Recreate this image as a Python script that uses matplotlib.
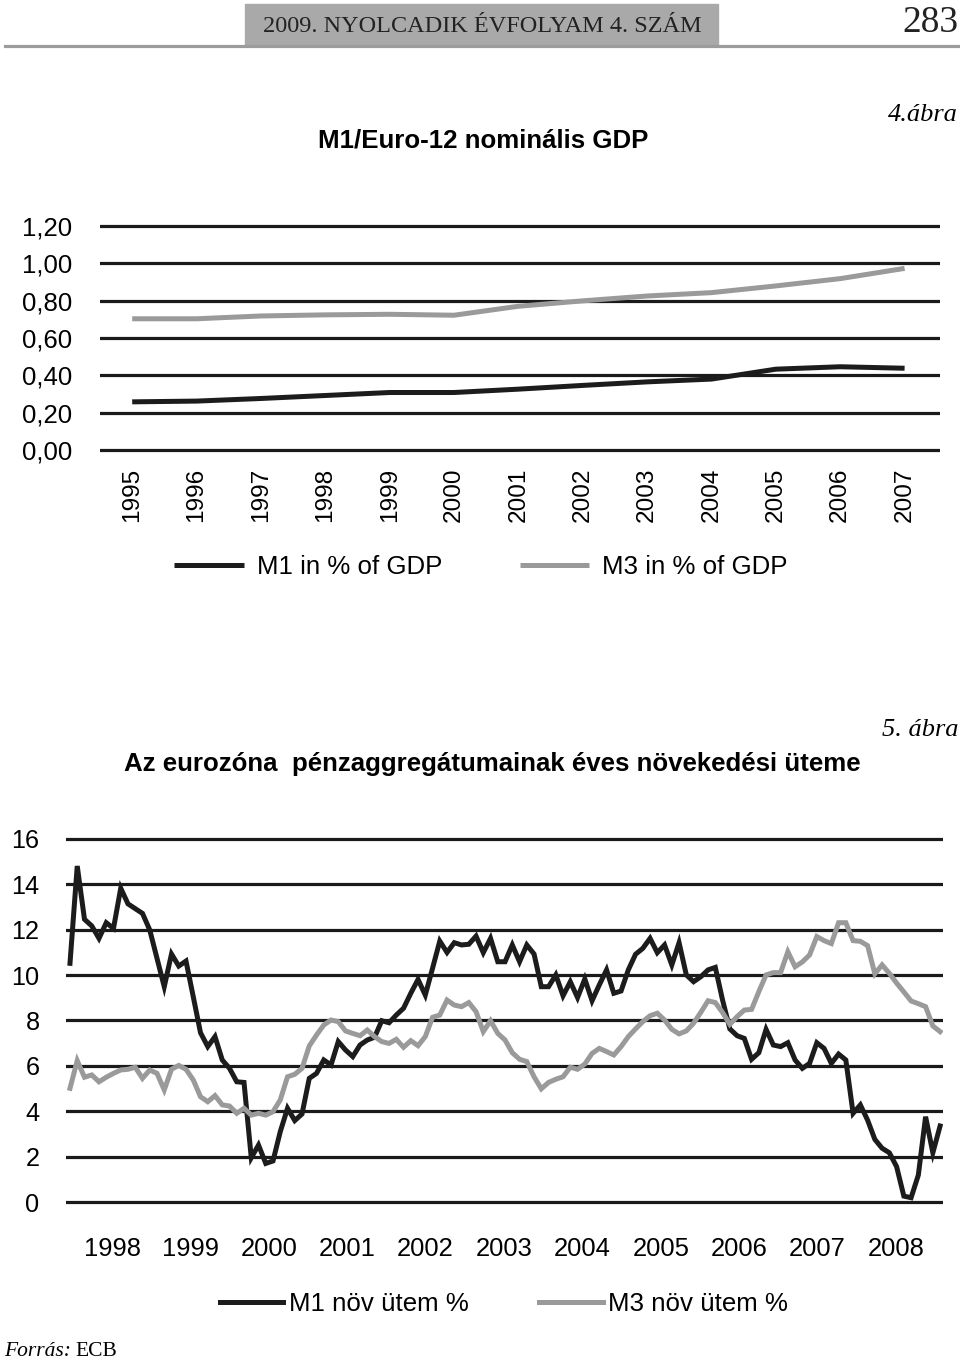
import matplotlib
matplotlib.use("Agg")
import matplotlib.pyplot as plt
from matplotlib.patches import Rectangle
from matplotlib.lines import Line2D
import numpy as np

SANS = ["Liberation Sans Narrow", "Liberation Sans", "DejaVu Sans"]
SERIF = ["Liberation Serif", "DejaVu Serif"]
plt.rcParams["font.family"] = SANS

# 4. abra: M1 and M3 in % of GDP, yearly
years_top = ["1995", "1996", "1997", "1998", "1999", "2000", "2001",
             "2002", "2003", "2004", "2005", "2006", "2007"]
m1_gdp = [0.258, 0.262, 0.276, 0.292, 0.308, 0.308, 0.326,
          0.346, 0.365, 0.380, 0.433, 0.446, 0.438]
m3_gdp = [0.703, 0.703, 0.718, 0.724, 0.727, 0.722, 0.770,
          0.799, 0.825, 0.843, 0.879, 0.918, 0.973]

# 5. abra: annual growth of M1 and M3, monthly
m1_growth = [
    10.52, 14.81, 12.46, 12.17, 11.62, 12.31, 12.06, 13.83, 13.14, 12.93,
    12.72, 11.99, 10.74, 9.49, 10.93, 10.40, 10.62, 9.05, 7.46, 6.85,
    7.29, 6.26, 5.89, 5.30, 5.27, 1.95, 2.51, 1.70, 1.81, 3.10,
    4.13, 3.59, 3.88, 5.45, 5.67, 6.26, 6.04, 7.07, 6.70, 6.41,
    6.92, 7.14, 7.26, 7.99, 7.90, 8.24, 8.54, 9.20, 9.81, 9.12,
    10.30, 11.50, 11.00, 11.43, 11.33, 11.36, 11.72, 10.99, 11.62, 10.59,
    10.59, 11.33, 10.59, 11.33, 10.93, 9.49, 9.49, 10.01, 9.09, 9.71,
    9.01, 9.83, 8.87, 9.57, 10.23, 9.20, 9.30, 10.23, 10.92, 11.18,
    11.62, 10.99, 11.33, 10.45, 11.43, 10.01, 9.71, 9.93, 10.23, 10.34,
    8.90, 7.63, 7.33, 7.21, 6.29, 6.58, 7.61, 6.92, 6.85, 7.02,
    6.26, 5.89, 6.11, 7.02, 6.77, 6.11, 6.52, 6.26, 3.91, 4.28,
    3.61, 2.76, 2.37, 2.17, 1.56, 0.26, 0.19, 1.19, 3.76, 2.17, 3.35]
m3_growth = [
    5.01, 6.23, 5.50, 5.60, 5.30, 5.50, 5.67, 5.82, 5.85, 5.94,
    5.45, 5.82, 5.67, 4.94, 5.85, 6.02, 5.85, 5.38, 4.64, 4.42,
    4.69, 4.28, 4.23, 3.91, 4.13, 3.83, 3.91, 3.83, 3.98, 4.50,
    5.52, 5.63, 5.89, 6.88, 7.36, 7.80, 8.02, 7.95, 7.54, 7.43,
    7.33, 7.58, 7.29, 7.07, 6.99, 7.17, 6.82, 7.11, 6.89, 7.29,
    8.14, 8.24, 8.90, 8.68, 8.61, 8.79, 8.39, 7.51, 7.99, 7.43,
    7.14, 6.58, 6.29, 6.19, 5.52, 4.99, 5.27, 5.41, 5.52, 5.94,
    5.85, 6.08, 6.55, 6.77, 6.63, 6.48, 6.85, 7.29, 7.63, 7.95,
    8.21, 8.32, 8.02, 7.61, 7.41, 7.54, 7.88, 8.36, 8.87, 8.79,
    8.35, 7.83, 8.17, 8.46, 8.49, 9.27, 10.01, 10.11, 10.11, 11.03,
    10.37, 10.58, 10.89, 11.70, 11.52, 11.39, 12.31, 12.31, 11.52, 11.49,
    11.30, 10.06, 10.45, 10.08, 9.65, 9.26, 8.86, 8.74, 8.61, 7.76, 7.51]
years_bottom = ["1998", "1999", "2000", "2001", "2002", "2003",
                "2004", "2005", "2006", "2007", "2008"]

BLACK = "#1c1c1c"
GREY = "#9a9a9a"
GRID = "#1a1a1a"

W, H = 960, 1363
fig = plt.figure(figsize=(W / 100, H / 100), dpi=100)


def box(l, t, r, b):
    return [l / W, 1 - b / H, (r - l) / W, (b - t) / H]


def style(ax):
    for s in ax.spines.values():
        s.set_visible(False)
    ax.yaxis.grid(True, color=GRID, lw=2.3)
    ax.set_axisbelow(True)


# header
fig.patches.append(Rectangle((245 / W, 1 - 45 / H), 473 / W, 41 / H,
                             transform=fig.transFigure, color="#a9a9a9", zorder=0))
fig.add_artist(Line2D([5 / W, 1], [1 - 46 / H] * 2, lw=2.3, color="#9c9c9c"))
fig.text(482 / W, 1 - 26 / H, "2009. NYOLCADIK ÉVFOLYAM 4. SZÁM", family=SERIF,
         fontsize=17.5, ha="center", va="center", color="#222222")
fig.text(958 / W, 1 - 23 / H, "283", family=SERIF, fontsize=27,
         ha="right", va="center", color="#222222")

# chart 4
fig.text(958 / W, 1 - 115 / H, "4.ábra", family=SERIF, style="italic",
         fontsize=19, ha="right", va="center")
fig.text(483 / W, 1 - 140 / H, "M1/Euro-12 nominális GDP", fontsize=18.6,
         fontweight="bold", ha="center", va="center")

ax1 = fig.add_axes(box(100, 222, 940, 454))
style(ax1)
x1 = np.arange(len(years_top))
l1, = ax1.plot(x1, m1_gdp, color=BLACK, lw=3.6, solid_capstyle="butt")
l2, = ax1.plot(x1, m3_gdp, color=GREY, lw=3.6, solid_capstyle="butt")
ax1.set_xlim(-0.5, 12.55)
ax1.set_ylim(-0.0214, 1.2214)
ax1.set_yticks(np.arange(0, 1.21, 0.2))
ax1.set_yticklabels([f"{v:.2f}".replace(".", ",") for v in np.arange(0, 1.21, 0.2)])
ax1.set_xticks(x1)
ax1.set_xticklabels(years_top, rotation=90)
ax1.tick_params(axis="x", length=0, pad=10, labelsize=17.6)
ax1.tick_params(axis="y", length=0, pad=20, labelsize=18.5)

fig.legend([l1, l2], ["M1 in % of GDP", "M3 in % of GDP"], loc="center",
           bbox_to_anchor=(481 / W, 1 - 567 / H), ncol=2, frameon=False,
           fontsize=18.6, handlelength=2.7, handletextpad=0.5, columnspacing=3.0)

# chart 5
fig.text(958 / W, 1 - 730 / H, "5. ábra", family=SERIF, style="italic",
         fontsize=19, ha="right", va="center")
fig.text(492 / W, 1 - 764 / H,
         "Az eurozóna  pénzaggregátumainak éves növekedési üteme",
         fontsize=18.6, fontweight="bold", ha="center", va="center")

ax2 = fig.add_axes(box(66, 835, 943, 1206))
style(ax2)
x2 = np.arange(len(m1_growth))
l3, = ax2.plot(x2, m1_growth, color=BLACK, lw=3.6, solid_joinstyle="miter")
l4, = ax2.plot(x2, m3_growth, color=GREY, lw=3.6, solid_joinstyle="miter")
ax2.set_xlim(-0.55, 120.4)
ax2.set_ylim(-0.176, 16.176)
ax2.set_yticks(np.arange(0, 17, 2))
ax2.set_xticks(np.linspace(5.8, 113.9, len(years_bottom)))
ax2.set_xticklabels(years_bottom)
ax2.tick_params(axis="x", length=0, pad=22, labelsize=18.4)
ax2.tick_params(axis="y", length=0, pad=19, labelsize=18.2)

fig.legend([l3, l4], ["M1 növ ütem %", "M3 növ ütem %"], loc="center",
           bbox_to_anchor=(504 / W, 1 - 1304 / H), ncol=2, frameon=False,
           fontsize=18.6, handlelength=2.45, handletextpad=0.2, columnspacing=2.75)

fig.text(4 / W, 1 - 1352 / H, "Forrás:", family=SERIF, style="italic",
         fontsize=15.5, ha="left", va="center")
fig.text(75 / W, 1 - 1352 / H, "ECB", family=SERIF, fontsize=15.5,
         ha="left", va="center")

fig.savefig("out.png", dpi=100)
